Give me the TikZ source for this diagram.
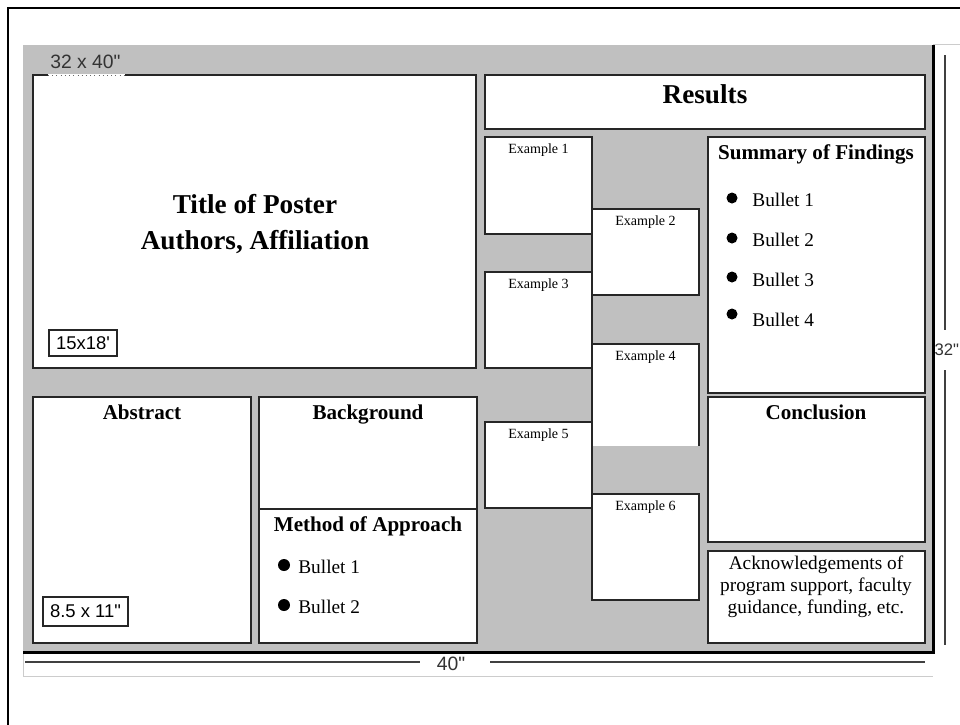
\documentclass[tikz,border=0pt]{standalone}
\usepackage{fontspec}
\setmainfont{Liberation Serif}
\newfontfamily\tagfont{Liberation Sans}
\usetikzlibrary{positioning}
\definecolor{postergray}{RGB}{192,192,192}
\tikzset{
  panel/.style={draw=black!85, line width=0.8pt, fill=white},
  heading/.style={anchor=base, font=\bfseries\fontsize{12}{14}\selectfont},
  bigheading/.style={anchor=base, font=\bfseries\fontsize{15.5}{21}\selectfont},
  bigtitle/.style={align=center, font=\bfseries\fontsize{15.5}{21}\selectfont},
  bullettext/.style={anchor=base west, inner sep=0pt, font=\fontsize{11}{13}\selectfont},
  exlabel/.style={anchor=base, font=\fontsize{8}{10}\selectfont},
  acktext/.style={align=center, font=\fontsize{11}{12.5}\selectfont},
  sizetag/.style={draw=black!85, line width=0.6pt, inner sep=1pt, font=\tagfont\fontsize{10.5}{12}\selectfont},
  sizelabel/.style={text=black!80, inner sep=0pt, font=\tagfont\fontsize{11}{13}\selectfont},
  dimline/.style={draw=black!75, line width=1.1pt}
}

\begin{document}
\begin{tikzpicture}[x=0.02cm, y=-0.02cm]
\useasboundingbox (0,0) rectangle (960,724);
\clip (0,0) rectangle (960,724);

% page and poster area
\draw[line width=1.2pt] (8,730) -- (8,8) -- (970,8);
\fill[postergray] (23,45) rectangle (933,652);
\draw[black!20] (23,652) -- (23,676) -- (933,676);
\draw[black!20] (933,44) -- (970,44);
\draw[line width=1.7pt] (23,652) -- (933,652) -- (933,45);

% title
\draw[panel] (33,75) rectangle (476,368);
\draw[white, line width=1pt] (48,75) -- (125,75);
\draw[black!60, dotted] (48,75) -- (125,75);
\node[sizelabel, anchor=base west] (poster) at (50,68) {32 x 40"};
\node[bigtitle] (title) at (255,224) {Title of Poster\\Authors, Affiliation};
\node[sizetag, minimum width=1.36cm, minimum height=0.52cm] (tag1) at (83,343) {15x18\textquotesingle};

% abstract, background, method
\draw[panel] (33,397) rectangle (251,643);
\node[heading] (abs) at (142,419) {Abstract};
\node[sizetag, minimum width=1.7cm, minimum height=0.58cm] (tag2) at (85.5,611.5) {8.5 x 11"};
\draw[panel] (259,397) rectangle (477,643);
\draw[panel] (259,509) -- (477,509);
\node[heading] (bg) at (368,419) {Background};
\node[heading] (moa) at (368,531) {Method of Approach};
\foreach \i/\y in {1/573,2/613} {
  \fill (284,\y-8) circle (0.12cm);
  \node[bullettext] (mb\i) at (298,\y) {Bullet \i};
}

% results
\draw[panel] (485,75) rectangle (925,129);
\node[bigheading] (res) at (705,103) {Results};
\foreach \n/\xa/\ya/\xb/\yb in {1/485/137/592/234, 2/592/209/699/295, 3/485/272/592/368,
                               5/485/422/592/508, 6/592/494/699/600} {
  \draw[panel] (\xa,\ya) rectangle (\xb,\yb);
  \node[exlabel] (ex\n) at ({(\xa+\xb)/2},\ya+16.5) {Example \n};
}
\draw[panel] (592,446) |- (699,344) -- (699,446);
\node[exlabel] (ex4) at (645.5,360.5) {Example 4};

% summary, conclusion, acknowledgements
\draw[panel] (708,137) rectangle (925,393);
\node[heading] (sum) at (816,159) {Summary of Findings};
\foreach \i/\y/\d in {1/206/198,2/246/238,3/286/277,4/326/314} {
  \fill (732,\d) circle (0.11cm);
  \node[bullettext] (sb\i) at (752,\y) {Bullet \i};
}
\draw[panel] (708,397) rectangle (925,542);
\node[heading] (con) at (816,419) {Conclusion};
\draw[panel] (708,551) rectangle (925,643);
\node[acktext] (ack) at (816,587) {Acknowledgements of\\program support, faculty\\guidance, funding, etc.};

% dimensions
\node[sizelabel, anchor=east, font=\tagfont\fontsize{9.5}{11}\selectfont] (high) at (959.5,350) {32"};
\node[sizelabel] (wide) at (451,664) {40"};
\coordinate (h1) at (945,55);
\coordinate (h2) at (945,330);
\coordinate (h3) at (945,370);
\coordinate (h4) at (945,645);
\coordinate (w1) at (25,662);
\coordinate (w2) at (420,662);
\coordinate (w3) at (490,662);
\coordinate (w4) at (925,662);
\draw[dimline] (h1) -- (h2) (h3) -- (h4);
\draw[dimline] (w1) -- (w2) (w3) -- (w4);
\end{tikzpicture}
\end{document}
